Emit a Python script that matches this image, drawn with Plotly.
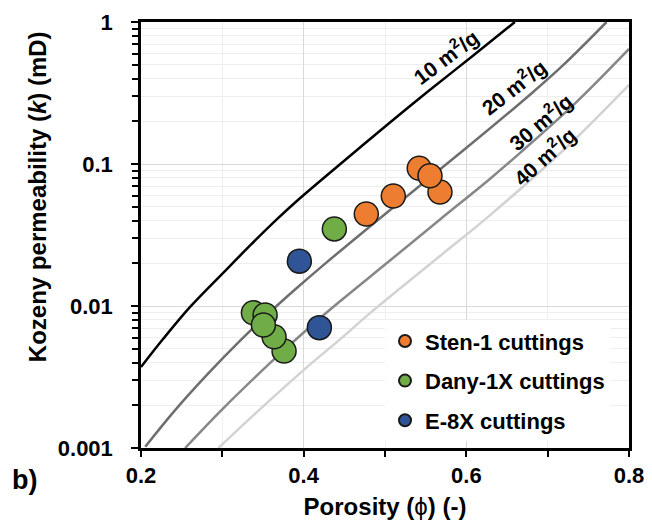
import plotly.graph_objects as go

# ---------------- data ----------------
sten_phi = [0.4770, 0.5102, 0.5421, 0.5676, 0.5553]
sten_k = [0.0445, 0.0595, 0.0933, 0.0635, 0.0827]

dany_phi = [0.3759, 0.3636, 0.3382, 0.3526, 0.3505, 0.4377]
dany_k = [0.00482, 0.00608, 0.00897, 0.00864, 0.00735, 0.0349]

e8x_phi = [0.3947, 0.4193]
e8x_k = [0.0207, 0.00704]

c10_phi = [0.2000, 0.2276, 0.2604, 0.3014, 0.3342, 0.3669, 0.3947, 0.4488, 0.5061, 0.5531, 0.6085, 0.6597]
c10_k = [0.00372, 0.0059, 0.00986, 0.0172, 0.0267, 0.0407, 0.0569, 0.1042, 0.1959, 0.325, 0.581, 1.0]

c20_phi = [0.2052, 0.2399, 0.2810, 0.3219, 0.3628, 0.3894, 0.4242, 0.4856, 0.5470, 0.5983, 0.6786, 0.7190, 0.7724]
c20_k = [0.00102, 0.00179, 0.00327, 0.0057, 0.00953, 0.01306, 0.0194, 0.0380, 0.0735, 0.1274, 0.309, 0.497, 1.0]

c30_phi = [0.2543, 0.3014, 0.3628, 0.4038, 0.4447, 0.5061, 0.5676, 0.6289, 0.6658, 0.7350, 0.8000]
c30_k = [0.001, 0.00191, 0.00417, 0.00681, 0.01079, 0.0209, 0.0407, 0.0785, 0.1194, 0.2716, 0.646]

c40_phi = [0.2952, 0.3424, 0.4038, 0.4447, 0.4816, 0.5676, 0.6289, 0.7232, 0.8000]
c40_k = [0.001, 0.00179, 0.0037, 0.00582, 0.00891, 0.0225, 0.0435, 0.1312, 0.361]

curve_labels = ["10 m<sup>2</sup>/g", "20 m<sup>2</sup>/g", "30 m<sup>2</sup>/g", "40 m<sup>2</sup>/g"]
label_phi = [0.5745, 0.6586, 0.6914, 0.6955]
label_logk = [-0.240, -0.452, -0.700, -0.945]
label_angle = [-37, -38, -40, -42]

y_tickvals = [0.001, 0.01, 0.1, 1]
y_ticktext = ["0.001", "0.01", "0.1", "1"]

FONT = "Arial, 'Liberation Sans', sans-serif"

fig = go.Figure()

curves = [
    (c10_phi, c10_k, "#000000"),
    (c20_phi, c20_k, "#6e6e6e"),
    (c30_phi, c30_k, "#878787"),
    (c40_phi, c40_k, "#d3d3d3"),
]
for cx, cy, col in curves:
    fig.add_trace(go.Scatter(
        x=cx, y=cy, mode="lines",
        line=dict(color=col, width=2.5, shape="spline", smoothing=1.0),
        showlegend=False, hoverinfo="skip"))

series = [
    ("Sten-1 cuttings", sten_phi, sten_k, "#ED7D31", "g1"),
    ("Dany-1X cuttings", dany_phi, dany_k, "#70AD47", "g2"),
    ("E-8X cuttings", e8x_phi, e8x_k, "#2F5597", "g3"),
]
for name, sx, sy, col, grp in series:
    fig.add_trace(go.Scatter(
        x=sx, y=sy, mode="markers", name=name, legendgroup=grp,
        marker=dict(size=24, color=col, line=dict(color="#1a1a1a", width=1.5))))

for txt, lx, ly, ang in zip(curve_labels, label_phi, label_logk, label_angle):
    fig.add_annotation(x=lx, y=ly, xref="x", yref="y", text="<b>" + txt + "</b>",
                       showarrow=False, textangle=ang,
                       xanchor="center", yanchor="middle",
                       font=dict(family=FONT, size=21, color="black"))

# y-axis title (annotation, offset upward as in reference)
fig.add_annotation(x=-0.213, y=0.589, xref="paper", yref="paper",
                   xanchor="center", yanchor="middle",
                   text="<b>Kozeny permeability (</b><b><i>k</i></b><b>) (mD)</b>",
                   textangle=-90, showarrow=False,
                   font=dict(family=FONT, size=24, color="black"))
# panel label
fig.add_annotation(x=-0.238, y=-0.075, xref="paper", yref="paper",
                   xanchor="center", yanchor="middle",
                   text="<b>b)</b>", showarrow=False,
                   font=dict(family=FONT, size=27, color="black"))

fig.update_layout(
    width=644, height=516,
    margin=dict(l=133, r=23, t=14, b=76),
    paper_bgcolor="white", plot_bgcolor="white",
    font=dict(family=FONT, color="black"),
    showlegend=True,
    legend=dict(x=0.5, y=0.30, xanchor="left", yanchor="top",
                bgcolor="white", borderwidth=0,
                font=dict(family=FONT, size=22, color="black", weight="bold"),
                itemsizing="constant", tracegroupgap=8, itemwidth=30),
    xaxis=dict(
        range=[0.2, 0.8], tick0=0.2, dtick=0.2, automargin=False,
        showgrid=True, gridcolor="#d9d9d9", gridwidth=1.3,
        ticks="outside", ticklen=6, tickwidth=2, tickcolor="black",
        showline=True, linecolor="black", linewidth=2.5, mirror=True,
        zeroline=False, tickformat=".1f",
        tickfont=dict(family=FONT, size=22, color="black", weight="bold"),
        ticklabelstandoff=0,
        minor=dict(dtick=0.1, tick0=0.2, ticks="outside", ticklen=6, tickwidth=2,
                   tickcolor="black", showgrid=True, gridcolor="#eeeeee", gridwidth=1.3),
        title=dict(text="<b>Porosity (</b><span style='font-weight:normal'>ϕ</span><b>) (-)</b>",
                   font=dict(family=FONT, size=24, color="black"), standoff=12),
    ),
    yaxis=dict(
        type="log", range=[-3, 0], automargin=False,
        tickmode="array", tickvals=y_tickvals, ticktext=y_ticktext,
        showgrid=True, gridcolor="#d9d9d9", gridwidth=1.3,
        ticks="outside", ticklen=7, tickwidth=2, tickcolor="black",
        showline=True, linecolor="black", linewidth=2.5, mirror=True,
        zeroline=False,
        tickfont=dict(family=FONT, size=22, color="black", weight="bold"),
        ticklabelstandoff=14,
        minor=dict(tickmode="array",
                   tickvals=[m * 10 ** e for e in (-3, -2, -1) for m in range(2, 10)],
                   ticks="outside", ticklen=6, tickwidth=2, tickcolor="black",
                   showgrid=True, gridcolor="#eeeeee", gridwidth=1.3),
    ),
)

fig.write_html("out.html")
